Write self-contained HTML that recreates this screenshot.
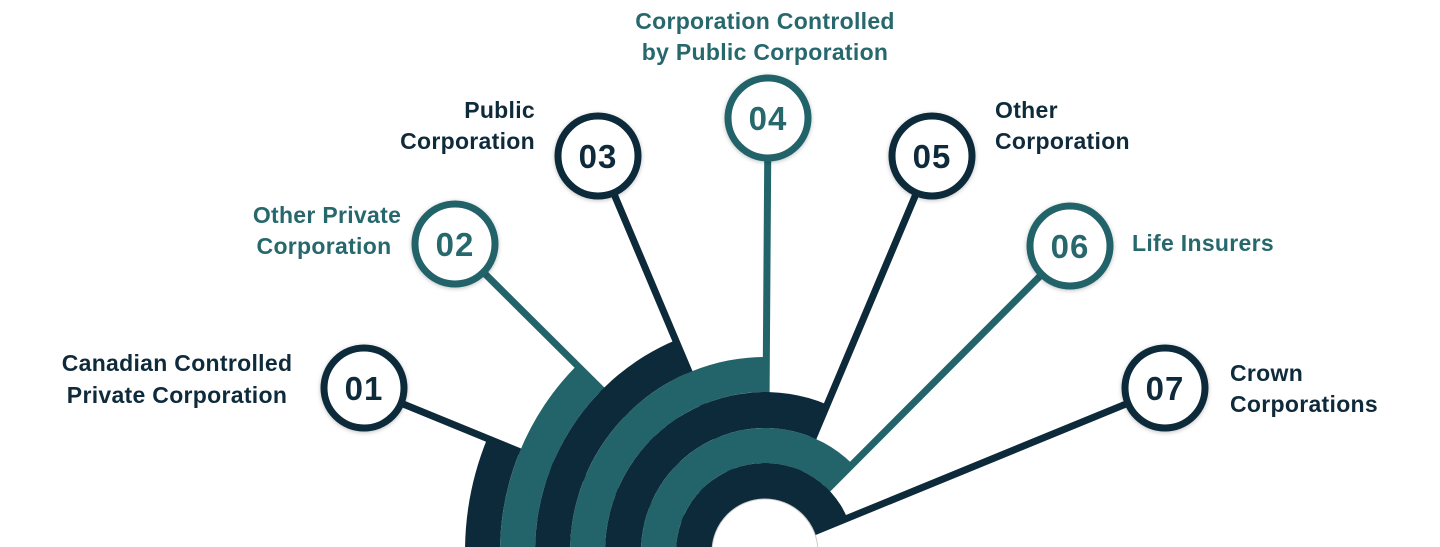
<!DOCTYPE html>
<html><head><meta charset="utf-8"><style>
html,body{margin:0;padding:0;background:#fff;width:1440px;height:547px;overflow:hidden;}
svg{display:block;overflow:hidden;}
text{font-family:"Liberation Sans",Arial,sans-serif;font-weight:bold;}
.d{fill:#0f2b3b;}
.t{fill:#27686d;}
.lb{font-size:23px;letter-spacing:0.3px;}
.n{font-size:33px;letter-spacing:1px;}
</style></head><body>
<svg id="s" width="1440" height="547" viewBox="0 0 1440 547" xmlns="http://www.w3.org/2000/svg">
<defs>
<filter id="sh" x="-30%" y="-30%" width="160%" height="160%"><feDropShadow dx="0" dy="1" stdDeviation="2" flood-color="#000" flood-opacity="0.25"/></filter>
<clipPath id="cp"><rect x="0" y="0" width="1440" height="547"/></clipPath>
</defs>
<g clip-path="url(#cp)">
<g id="lines"></g>
<g id="bands"></g>
<circle cx="765" cy="552" r="53" fill="#fff" stroke="#ccc" stroke-width="1"/>
</g>
<g id="circles"></g>

<text class="lb d" text-anchor="middle" x="177" y="371">Canadian Controlled</text>
<text class="lb d" text-anchor="middle" x="177" y="403">Private Corporation</text>
<text class="lb t" text-anchor="middle" x="327" y="223">Other Private</text>
<text class="lb t" text-anchor="middle" x="324" y="254">Corporation</text>
<text class="lb d" text-anchor="end" x="535" y="118">Public</text>
<text class="lb d" text-anchor="end" x="535" y="149">Corporation</text>
<text class="lb t" text-anchor="middle" x="765" y="29">Corporation Controlled</text>
<text class="lb t" text-anchor="middle" x="765" y="60">by Public Corporation</text>
<text class="lb d" x="995" y="118">Other</text>
<text class="lb d" x="995" y="149">Corporation</text>
<text class="lb t" x="1132" y="251">Life Insurers</text>
<text class="lb d" x="1230" y="381">Crown</text>
<text class="lb d" x="1230" y="412">Corporations</text>
</svg>
<script>
var cx=765,cy=552,D="#0d2a3a",T="#23646a";
var items=[[364,388,D,"01"],[455,244,T,"02"],[598,156,D,"03"],[768,118,T,"04"],[932,156,D,"05"],[1070,246,T,"06"],[1165,388,D,"07"]];
var NS="http://www.w3.org/2000/svg";
function el(n,a,p){var e=document.createElementNS(NS,n);for(var k in a)e.setAttribute(k,a[k]);document.getElementById(p).appendChild(e);return e;}
var radii=[300,265,230,195,160,124,89,53];
items.forEach(function(it,i){
  var x=it[0],y=it[1],c=it[2];
  el("line",{x1:cx,y1:cy,x2:x,y2:y,stroke:c,"stroke-width":7},"lines");
  var th=Math.atan2(cy-y,x-cx);
  var r2=radii[i],r1=radii[i+1];
  var ox=cx+r2*Math.cos(th),oy=cy-r2*Math.sin(th),ix=cx+r1*Math.cos(th),iy=cy-r1*Math.sin(th);
  var d="M"+(cx-r2)+" "+cy+" A"+r2+" "+r2+" 0 0 1 "+ox+" "+oy+" L"+ix+" "+iy+" A"+r1+" "+r1+" 0 0 0 "+(cx-r1)+" "+cy+"Z";
  el("path",{d:d,fill:c},"bands");
  el("circle",{cx:x,cy:y,r:40,fill:"#fff",stroke:c,"stroke-width":7,filter:"url(#sh)"},"circles");
  var t=el("text",{x:x,y:y+12,"text-anchor":"middle","class":"n "+(c==D?"d":"t")},"circles");
  t.textContent=it[3];
});
</script>
</body></html>
